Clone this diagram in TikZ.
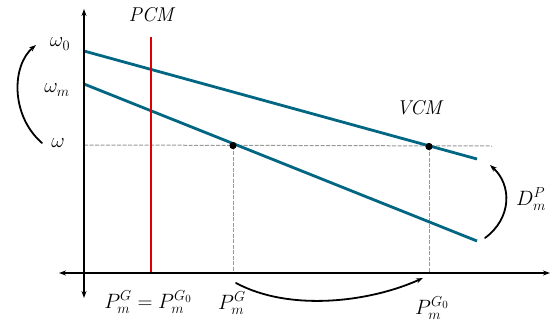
\documentclass[tikz,border=0pt]{standalone}
\usetikzlibrary{arrows.meta}
\definecolor{teal1}{RGB}{0,102,130}
\definecolor{red1}{RGB}{222,0,0}
\tikzset{
  axis/.style={line width=1.7pt,{Stealth[length=7pt,width=5pt]}-{Stealth[length=7pt,width=5pt]}},
  curve/.style={line width=1.8pt,black,line cap=round,-{Stealth[length=7pt,width=5pt]}},
  tealline/.style={teal1,line width=2.8pt},
  redline/.style={red1,line width=2.8pt},
  guide/.style={gray!80,line width=1pt,dash pattern=on 4pt off 1.5pt},
  dot/.style={circle,fill=black,inner sep=0pt,minimum size=7pt},
  lbl/.style={inner sep=0pt},
  title/.style={inner sep=0pt,font=\fontsize{20}{24}\selectfont\itshape}
}
\begin{document}
\begin{tikzpicture}[x=1pt,y=-1pt,font=\fontsize{21}{25}\selectfont]
\useasboundingbox (0,0) rectangle (552,322);
% axes
\coordinate (yb) at (84,298);
\coordinate (yt) at (84,9);
\coordinate (xl) at (59,273);
\coordinate (xr) at (550,273);
% guides
\coordinate (wl) at (84,145);
\coordinate (wr) at (492,146);
\node[dot] (d1) at (233,145.5) {};
\node[dot] (d2) at (429,146.5) {};
\coordinate (b1) at (233,273);
\coordinate (b2) at (429,273);
\draw[guide] (wl) -- (wr);
\draw[guide] (d1.center) -- (b1);
\draw[guide] (d2.center) -- (b2);
% lines
\coordinate (u0) at (84,51);
\coordinate (u1) at (477,159);
\coordinate (l0) at (84,84);
\coordinate (l1) at (477,241);
\draw[tealline] (u0) -- (u1);
\draw[tealline] (l0) -- (l1);
\coordinate (r0) at (151,37);
\coordinate (r1) at (151,273);
\draw[redline] (r0) -- (r1);
\draw[axis] (yb) -- (yt);
\draw[axis] (xl) -- (xr);
\node[dot] at (d1) {};
\node[dot] at (d2) {};
% labels
\node[title] (pcm) at (151,15) {PCM};
\node[title] (vcm) at (419,108) {VCM};
\node[lbl] (w0) at (60,44) {$\omega_0$};
\node[lbl] (wm) at (57,90) {$\omega_m$};
\node[lbl] (w) at (58,143) {$\omega$};
\node[lbl] (dmp) at (531,199) {$D_m^P$};
\node[lbl] (p1) at (148,302) {$P_m^G=P_m^{G_0}$};
\node[lbl] (p2) at (232,303) {$P_m^G$};
\node[lbl] (p3) at (432,308) {$P_m^{G_0}$};
% curved arrows
\coordinate (a1s) at (42,143);
\coordinate (a1e) at (36,45);
\draw[curve] (a1s) .. controls (10,115) and (12,65) .. (a1e);
\coordinate (a2s) at (485,238);
\coordinate (a2e) at (490,165);
\draw[curve] (a2s) .. controls (512,218) and (512,185) .. (a2e);
\coordinate (a3s) at (236,283);
\coordinate (a3e) at (423,278);
\draw[curve] (a3s) .. controls (290,312) and (370,302) .. (a3e);
\end{tikzpicture}
\end{document}
